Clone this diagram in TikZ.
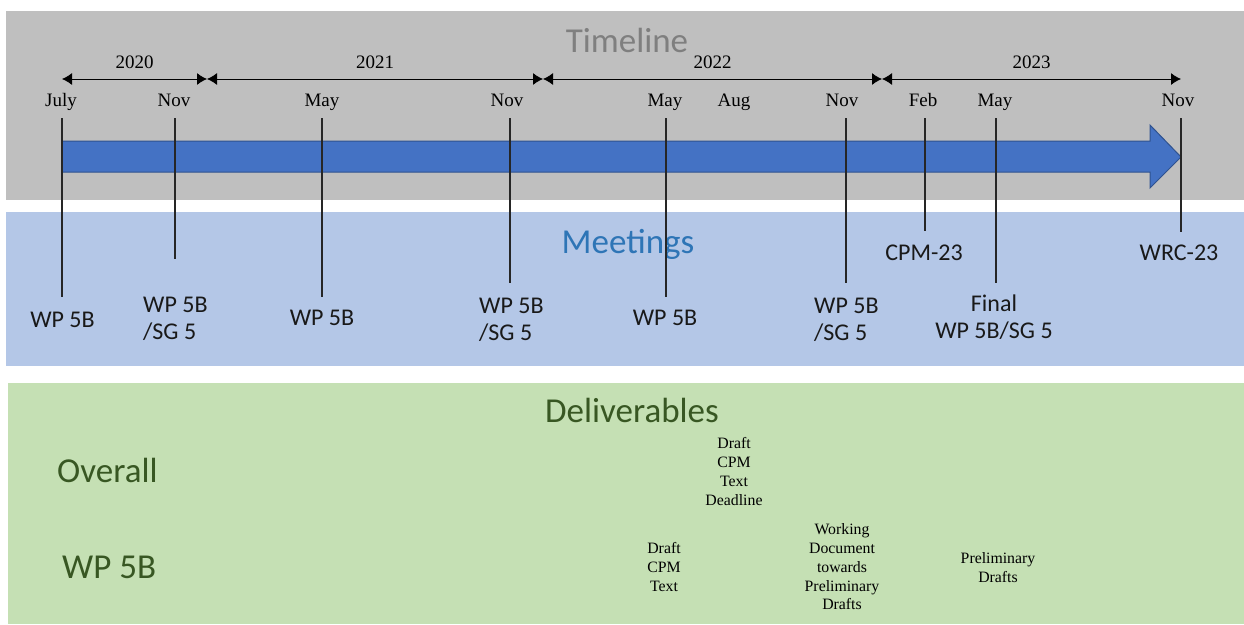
\documentclass[tikz,border=0pt]{standalone}
\usepackage{fontspec}
\setmainfont{Liberation Serif}
\newfontfamily\calibri{Carlito}
\usepackage{tikz}
\usetikzlibrary{arrows.meta}

\definecolor{bandgray}{HTML}{BFBFBF}
\definecolor{bandblue}{HTML}{B4C7E7}
\definecolor{bandgreen}{HTML}{C5E0B4}
\definecolor{arrowblue}{HTML}{4472C4}
\definecolor{arrowedge}{HTML}{2F528F}
\definecolor{titlegray}{HTML}{7F7F7F}
\definecolor{titleblue}{HTML}{2E75B6}
\definecolor{titlegreen}{HTML}{385723}

\begin{document}
\begin{tikzpicture}[
            x = 1pt, y = -1pt, % pixel grid, y runs down
            > = {Latex[length=10pt,width=12pt]}, % arrow head style
            inner sep = 0pt,
            title/.style = {font=\calibri\fontsize{35}{42}\selectfont, anchor=base},
            month/.style = {font=\fontsize{19}{22}\selectfont, anchor=base},
            yearlbl/.style = {font=\fontsize{19}{22}\selectfont, anchor=base, yshift=11pt},
            meet/.style = {font=\calibri\fontsize{24}{27}\selectfont, text=black!90},
            deliv/.style = {font=\fontsize{15.8}{18.8}\selectfont, align=center, anchor=north},
            tick/.style = {draw=black!85, line width=1.1pt}
        ]

	% bands
	\fill[white] (0,0) rectangle (1244,624);
	\useasboundingbox (0,0) rectangle (1244,624);
	\fill[bandgray] (6,11) rectangle (1244,200);
	\fill[bandblue] (6,212) rectangle (1244,366);
	\fill[bandgreen] (8,383) rectangle (1244,624);

	% titles
	\node[title, text=titlegray] (timeline) at (627,52) {Timeline};
	\node[title, text=titleblue] (meetings) at (628,253) {Meetings};
	\node[title, text=titlegreen] (deliverables) at (632,422) {Deliverables};
	\node[title, text=titlegreen, anchor=base west] (overall) at (57,482) {Overall};
	\node[title, text=titlegreen, anchor=base west] (wpfiveb) at (62,578) {WP 5B};

	% big timeline arrow
	\draw[fill=arrowblue, draw=arrowedge, line width=1pt]
		(62,141) -- (1150,141) -- (1150,125) -- (1181,157)
		-- (1150,188) -- (1150,172) -- (62,172) -- cycle;

	% years
	\coordinate (y0) at (62,79);
	\coordinate (y1) at (207,79);
	\coordinate (y2) at (543,79);
	\coordinate (y3) at (882,79);
	\coordinate (y4) at (1181,79);
	\draw[<->, line width=0.9pt] (y0) -- node[yearlbl] {2020} (y1);
	\draw[<->, line width=0.9pt] (y1) -- node[yearlbl] {2021} (y2);
	\draw[<->, line width=0.9pt] (y2) -- node[yearlbl] {2022} (y3);
	\draw[<->, line width=0.9pt] (y3) -- node[yearlbl] {2023} (y4);

	% months
	\foreach \n/\x/\m in {1/61/July, 2/174/Nov, 3/322/May, 4/507/Nov, 5/665/May,
		6/734/Aug, 7/842/Nov, 8/923/Feb, 9/995/May, 10/1178/Nov}
		\node[month] (m\n) at (\x,106.5) {\m};

	% meetings
	\node[meet, anchor=base] (mt1) at (62.5,327) {WP 5B};
	\node[meet, anchor=north west, align=left] (mt2) at (143,296.5) {WP 5B\\/SG 5};
	\node[meet, anchor=base] (mt3) at (322,325) {WP 5B};
	\node[meet, anchor=north west, align=left] (mt4) at (479,297.5) {WP 5B\\/SG 5};
	\node[meet, anchor=base] (mt5) at (665,325) {WP 5B};
	\node[meet, anchor=north west, align=left] (mt6) at (814,297.5) {WP 5B\\/SG 5};
	\node[meet, anchor=base] (mt7) at (924,260) {CPM-23};
	\node[meet, anchor=north, align=center] (mt8) at (994,295) {Final\\WP 5B/SG 5};
	\node[meet, anchor=base] (mt9) at (1179,260) {WRC-23};

	% ticks from timeline down to the meetings
	\foreach \n/\x/\y in {1/62/297, 2/175/259, 3/322/297, 4/510/283, 5/666/297,
		6/846/283, 7/925/231, 8/996/283, 9/1181/232} {
		\coordinate (t\n) at (\x,118);
		\coordinate (b\n) at (\x,\y);
		\draw[tick] (t\n) -- (b\n);
	}

	% deliverables
	\node[deliv] (d1) at (734,437.5) {Draft\\CPM\\Text\\Deadline};
	\node[deliv] (d2) at (664,542.5) {Draft\\CPM\\Text};
	\node[deliv] (d3) at (842,523.5) {Working\\Document\\towards\\Preliminary\\Drafts};
	\node[deliv] (d4) at (998,552.5) {Preliminary\\Drafts};

\end{tikzpicture}
\end{document}
